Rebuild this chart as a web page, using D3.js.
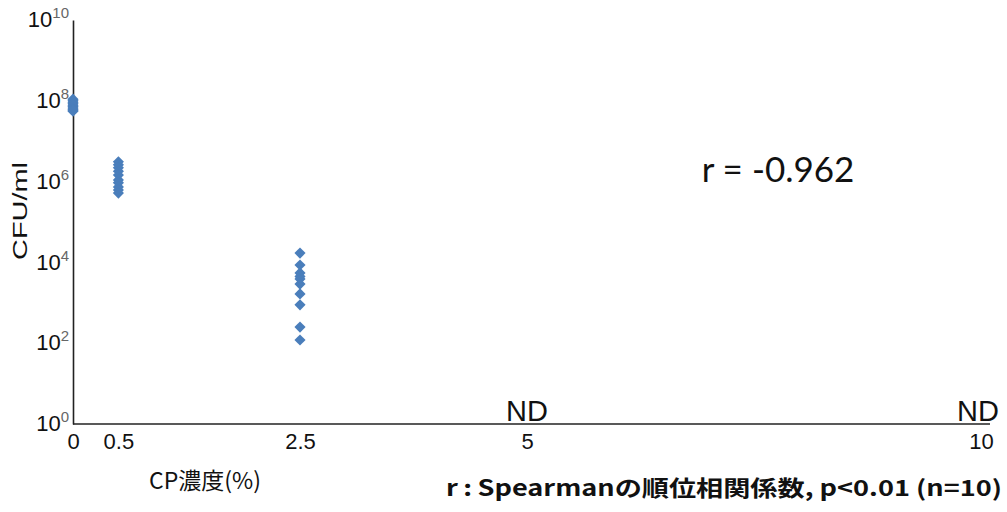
<!DOCTYPE html>
<html>
<head>
<meta charset="utf-8">
<script src="https://cdn.jsdelivr.net/npm/d3@7"></script>
<style>
  html, body { margin: 0; padding: 0; background: #fff; }
  svg { display: block; }
</style>
</head>
<body>
<svg id="chart" width="1007" height="512"></svg>
<script>
// CP concentration (%) groups and CFU/ml counts per group
const concentrations = [0, 0.5, 2.5, 5, 10];
const cfu0 = [1.1e8, 1.0e8, 9.2e7, 8.5e7, 7.8e7, 7.2e7, 6.6e7, 6.2e7, 5.8e7, 5.5e7];
const cfu05 = [3.1e6, 2.6e6, 2.2e6, 1.8e6, 1.45e6, 1.1e6, 9.3e5, 7.4e5, 6.2e5, 5.2e5];
const cfu25 = [1.7e4, 8.6e3, 5.5e3, 4.5e3, 3.9e3, 2.9e3, 1.66e3, 8.9e2, 2.5e2, 1.2e2];
const ndGroups = [5, 10];
const yExponents = [0, 2, 4, 6, 8, 10];
const xTickLabels = ["0", "0.5", "2.5", "5", "10"];
const rText = "r = -0.962";
const footnote = "r\u2009:\u2009Spearmanの順位相関係数, p<0.01 (n=10)";

const groups = [
  { x: 0, values: cfu0 },
  { x: 0.5, values: cfu05 },
  { x: 2.5, values: cfu25 }
];

const svg = d3.select("#chart");
const plotLeft = 73, plotRight = 990, plotTop = 20, plotBottom = 424;

const x = d3.scaleLinear().domain([0, 10]).range([plotLeft, 981]);
const y = d3.scaleLog().domain([1, 1e10]).range([plotBottom, plotTop]);

const tickFont = "'Liberation Sans', Arial, sans-serif";
const jpFont = "'Noto Sans CJK JP', sans-serif";

// Y axis (log scale, labels as powers of ten)
const yAxis = svg.append("g")
  .attr("transform", `translate(${plotLeft},0)`)
  .call(d3.axisLeft(y)
    .tickValues(yExponents.map(e => Math.pow(10, e)))
    .tickSize(0)
    .tickPadding(4)
    .tickFormat(() => ""));
yAxis.select(".domain").attr("stroke", "#222").attr("stroke-width", 1.6);
yAxis.selectAll(".tick text").each(function(d) {
  const t = d3.select(this)
    .attr("font-family", tickFont)
    .attr("font-size", 22)
    .attr("fill", "#111")
    .attr("dy", "0.3em");
  t.append("tspan").text("10");
  t.append("tspan")
    .text(Math.round(Math.log10(d)))
    .attr("font-size", 15)
    .attr("fill", "#666")
    .attr("dy", "-0.6em");
});

// X axis
const xAxis = svg.append("g")
  .attr("transform", `translate(0,${plotBottom})`)
  .call(d3.axisBottom(x)
    .tickValues(concentrations)
    .tickSize(0)
    .tickPadding(9)
    .tickFormat((d, i) => xTickLabels[i]));
xAxis.select(".domain")
  .attr("d", `M${plotLeft},0H${plotRight}`)
  .attr("stroke", "#222").attr("stroke-width", 1.6);
xAxis.selectAll(".tick text")
  .attr("font-family", tickFont)
  .attr("font-size", 22)
  .attr("fill", "#111");

// Data points as diamonds
const diamond = d3.symbol().type(d3.symbolSquare).size(62);
const pts = groups.flatMap(g => g.values.map(v => ({ x: g.x, v })));
svg.append("g").selectAll("path")
  .data(pts)
  .join("path")
  .attr("d", diamond)
  .attr("transform", d => `translate(${x(d.x)},${y(d.v)}) rotate(45)`)
  .attr("fill", "#4a7ebb");

// ND markers for groups with no detected growth
svg.append("g").selectAll("text")
  .data(ndGroups)
  .join("text")
  .attr("x", d => x(d) - (d === 10 ? 3 : 0))
  .attr("y", 421)
  .attr("text-anchor", "middle")
  .attr("font-family", tickFont)
  .attr("font-size", 29)
  .attr("fill", "#111")
  .text("ND");

// Axis titles
svg.append("text")
  .attr("transform", "translate(27,211) rotate(-90)")
  .attr("text-anchor", "middle")
  .attr("font-family", tickFont)
  .attr("font-size", 21)
  .attr("fill", "#111")
  .attr("textLength", 98)
  .attr("lengthAdjust", "spacingAndGlyphs")
  .text("CFU/ml");

svg.append("text")
  .attr("x", 205).attr("y", 489)
  .attr("text-anchor", "middle")
  .attr("font-family", jpFont)
  .attr("font-size", 23)
  .attr("fill", "#111")
  .text("CP濃度(%)");

// Correlation annotation
svg.append("text")
  .attr("x", 778).attr("y", 182)
  .attr("text-anchor", "middle")
  .attr("font-family", "Lato, 'Open Sans', sans-serif")
  .attr("font-size", 35)
  .attr("fill", "#111")
  .text(rText);

svg.append("text")
  .attr("x", 1002).attr("y", 496)
  .attr("text-anchor", "end")
  .attr("font-family", jpFont)
  .attr("font-size", 22)
  .attr("font-weight", "bold")
  .attr("fill", "#111")
  .attr("textLength", 556)
  .attr("lengthAdjust", "spacingAndGlyphs")
  .text(footnote);
</script>
</body>
</html>
